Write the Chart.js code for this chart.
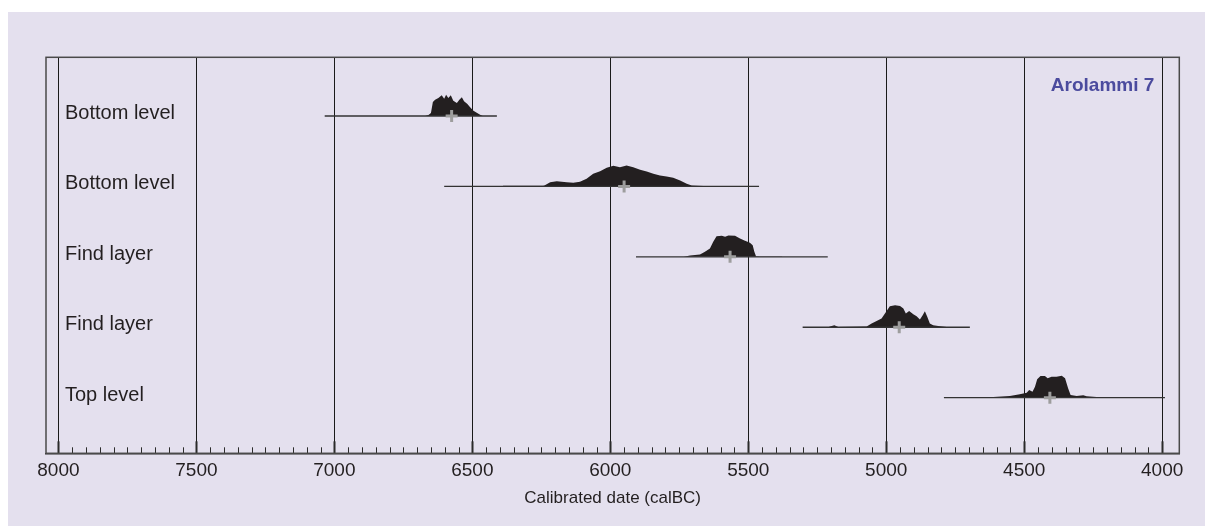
<!DOCTYPE html>
<html>
<head>
<meta charset="utf-8">
<title>Arolammi 7</title>
<script src="https://cdn.jsdelivr.net/npm/chart.js@4.4.1/dist/chart.umd.min.js"></script>
<style>
  html, body { margin: 0; padding: 0; background: #fff; }
  #panel { position: absolute; left: 8px; top: 12px; width: 1197px; height: 514px; background: #e4e0ee; }
  canvas { display: block; }
</style>
</head>
<body>
<div id="panel"><canvas id="chart" width="1197" height="514"></canvas></div>
<script>
// sample rows, top to bottom
const rowLabels = ["Bottom level", "Bottom level", "Find layer", "Find layer", "Top level"];
const siteName = "Arolammi 7";

// calibrated ranges (calBC) and median marks
const rangeStart = [7035, 6602, 5907, 5303, 4791];
const rangeEnd = [6411, 5461, 5212, 4697, 3990];
const medians = [6575, 5950, 5566, 4953, 4407];

// probability curves: years and relative density
const years1 = [6671, 6659, 6650, 6643, 6635, 6623, 6611, 6602, 6595, 6587, 6578, 6569, 6556, 6547, 6538, 6530, 6518, 6508, 6496, 6484, 6472, 6462];
const dens1 = [0, 1, 3, 14, 16.3, 18, 20.7, 17.3, 21.3, 18, 20.7, 15.3, 13, 16.3, 18.7, 14.7, 12, 8.7, 5.3, 3.3, 1.3, 0];

const years2 = [6395, 6388, 6327, 6243, 6237, 6218, 6194, 6158, 6134, 6110, 6086, 6062, 6037, 6013, 5989, 5965, 5941, 5917, 5892, 5868, 5844, 5820, 5796, 5772, 5747, 5723, 5705, 5663, 5627, 5615];
const dens2 = [0, 0.6, 0.6, 0.7, 1.3, 4.3, 5.3, 4.3, 3.7, 4.7, 7.7, 12.7, 15.3, 18.7, 20.7, 19.3, 21, 19.3, 16.7, 15, 12.7, 11, 10, 8.7, 6, 2.7, 1, 0.5, 0.5, 0];

const years3 = [5735, 5729, 5711, 5675, 5657, 5639, 5627, 5615, 5596, 5584, 5572, 5548, 5530, 5512, 5494, 5484, 5478, 5472, 5458, 5379, 5375];
const dens3 = [0, 0.3, 1.3, 2.3, 5, 8.3, 15, 20.7, 21, 20, 21.3, 21, 18.3, 16, 14, 11.7, 5, 0.7, 0.4, 0.4, 0];

const years4 = [5210, 5204, 5188, 5174, 5071, 5053, 5035, 5017, 5001, 4987, 4968, 4950, 4938, 4929, 4917, 4902, 4890, 4878, 4868, 4860, 4851, 4842, 4830, 4812, 4781, 4775];
const dens4 = [0, 0.7, 2, 0.3, 0.7, 3.7, 6.3, 8.7, 15.3, 21, 22, 21.3, 18.7, 13.7, 16.3, 13, 11, 7.7, 12, 16, 10.3, 3.7, 2, 1.3, 0.3, 0];

const years5 = [4690, 4685, 4612, 4552, 4516, 4491, 4482, 4470, 4461, 4453, 4441, 4425, 4415, 4401, 4383, 4364, 4352, 4341, 4332, 4310, 4286, 4274, 4238, 4177, 4170];
const dens5 = [0, 0.4, 0.7, 1.7, 3.3, 5, 7.7, 6, 11, 18.3, 21.7, 21.7, 19.3, 21, 21, 22, 19.3, 9.3, 2.7, 1.7, 2.3, 1.3, 0.7, 0.4, 0];

// x axis
const xTicks = [8000, 7500, 7000, 6500, 6000, 5500, 5000, 4500, 4000];
const xTitle = "Calibrated date (calBC)";

const curveYears = [years1, years2, years3, years4, years5];
const curveDens = [dens1, dens2, dens3, dens4, dens5];
const densScale = 1 / 70.4;

const datasets = [];
curveYears.forEach((yrs, i) => {
  datasets.push({
    data: yrs.map((yr, j) => ({ x: yr, y: i - curveDens[i][j] * densScale })),
    borderWidth: 0,
    borderColor: "#231f20",
    backgroundColor: "#231f20",
    pointRadius: 0,
    fill: { value: i },
    order: 3,
  });
  datasets.push({
    data: [{ x: rangeStart[i], y: i }, { x: rangeEnd[i], y: i }],
    borderColor: "#333333",
    borderWidth: 1.3,
    pointRadius: 0,
    fill: false,
    order: 2,
  });
});
datasets.push({
  data: medians.map((m, i) => ({ x: m, y: i })),
  showLine: false,
  pointStyle: "cross",
  pointRadius: 6,
  pointBorderWidth: 3,
  pointBorderColor: "#9d9d9d",
  borderColor: "#9d9d9d",
  order: 1,
});

const decorations = {
  id: "decorations",
  afterDatasetsDraw(chart) {
    const { ctx, chartArea: a, scales } = chart;
    const xs = scales.x;
    const ys = scales.y;
    ctx.save();
    // minor ticks every 50 years, major ones every 500
    ctx.strokeStyle = "#2b2b2b";
    for (let v = 4000; v <= 8000; v += 50) {
      const px = Math.round(xs.getPixelForValue(v)) + 0.5;
      const major = v % 500 === 0;
      ctx.lineWidth = major ? 2 : 1;
      ctx.beginPath();
      ctx.moveTo(px, a.bottom);
      ctx.lineTo(px, a.bottom - (major ? 12 : 6));
      ctx.stroke();
    }
    // frame
    ctx.lineWidth = 1.5;
    ctx.strokeStyle = "#4a4a4a";
    ctx.strokeRect(a.left, a.top, a.right - a.left, a.bottom - a.top);
    // row labels
    ctx.fillStyle = "#231f20";
    ctx.font = '20px "Liberation Sans"';
    ctx.textAlign = "left";
    ctx.textBaseline = "alphabetic";
    rowLabels.forEach((t, i) => ctx.fillText(t, a.left + 19, ys.getPixelForValue(i) + 3));
    // site name
    ctx.fillStyle = "#4b4b9e";
    ctx.font = 'bold 19px "Liberation Sans"';
    ctx.textAlign = "right";
    ctx.textBaseline = "middle";
    ctx.fillText(siteName, a.right - 25, a.top + 28);
    ctx.restore();
  },
};

new Chart(document.getElementById("chart"), {
  type: "line",
  data: { datasets: datasets },
  options: {
    responsive: false,
    animation: false,
    layout: { padding: { left: 38, right: 25.7, top: 45.3, bottom: 0 } },
    plugins: { legend: { display: false }, tooltip: { enabled: false } },
    scales: {
      x: {
        type: "linear",
        reverse: true,
        min: 3938,
        max: 8045,
        afterBuildTicks: (scale) => {
          scale.ticks = xTicks.map((v) => ({ value: v }));
        },
        afterFit: (scale) => {
          scale.height = 72.7;
        },
        grid: { color: "#1a1a1a", lineWidth: 1, drawTicks: false },
        border: { display: true, color: "#333333", width: 1.5 },
        ticks: {
          autoSkip: false,
          maxRotation: 0,
          padding: 6,
          color: "#231f20",
          font: { family: "Liberation Sans", size: 19 },
          callback: (v) => String(v),
        },
        title: {
          display: true,
          text: xTitle,
          color: "#231f20",
          font: { family: "Liberation Sans", size: 17 },
          padding: { top: 4, bottom: 17 },
        },
      },
      y: {
        type: "linear",
        reverse: true,
        min: -0.834,
        max: 4.79,
        display: false,
      },
    },
  },
  plugins: [decorations],
});
</script>
</body>
</html>
